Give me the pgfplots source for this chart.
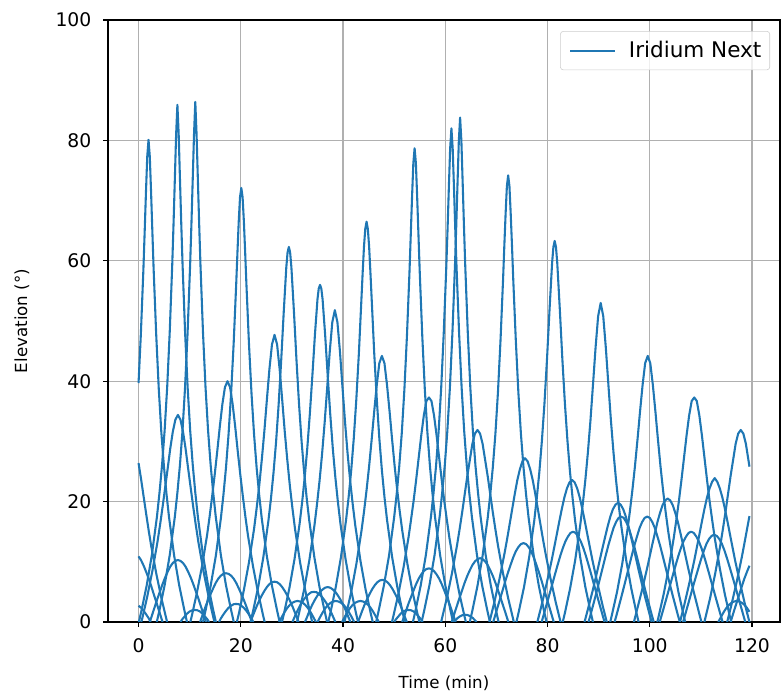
\documentclass[border=0pt]{standalone}
\usepackage{fontspec}
\setmainfont{DejaVu Sans}
\usepackage{pgfplots}
\pgfplotsset{compat=1.18}
\definecolor{mplblue}{HTML}{1F77B4}
\definecolor{gridgray}{HTML}{B0B0B0}
\definecolor{legendgray}{HTML}{CCCCCC}
\begin{document}
\begin{tikzpicture}
\begin{axis}[
 scale only axis, width=483.8pt, height=433.4pt,
 xmin=-5.975, xmax=125.475, ymin=0, ymax=100,
 xtick={0,20,...,120}, ytick={0,20,...,100},
 grid=major, grid style={color=gridgray, line width=0.8pt},
 axis line style={line width=0.8pt},
 tick align=outside, major tick length=3.5pt, tick style={black, line width=0.8pt},
 xtick pos=left, ytick pos=left,
 ticklabel style={font=\fontsize{13.5}{16}\selectfont},
 xticklabel style={yshift=-5pt},
 yticklabel style={xshift=-5pt},
 /pgf/number format/assume math mode=true,
 xlabel={Time (min)}, ylabel={Elevation (°)},
 label style={font=\fontsize{12}{14}\selectfont},
 x label style={at={(axis description cs:0.5,-0.1013)}, anchor=center},
 y label style={at={(axis description cs:-0.128,0.5)}, anchor=center},
 legend style={at={(axis description cs:1,1)}, xshift=-7.2pt, yshift=-8pt, anchor=north east,
   draw=legendgray, rounded corners=2pt, fill=white, fill opacity=0.8, text opacity=1,
   font=\fontsize{15.5}{18}\selectfont, inner xsep=4pt, inner ysep=5.2pt, cells={anchor=west}},
 legend image code/.code={\path (-2.2pt,0pt) (39.6pt,0pt); \draw[#1] (0pt,0pt) -- (32.4pt,0pt);},
 pass/.style={mplblue, line width=1.5pt, line join=round, forget plot},
]
\addlegendimage{mplblue, line width=1.5pt}
\addlegendentry{Iridium Next}
% high passes
\addplot[pass] coordinates {(0,39.7)(0.45,47.8)(0.95,58.6)(1.2,64.9)(1.45,71.4)(1.7,77.3)(1.95,80.1)(2.2,77.3)(2.45,71.4)(2.7,64.9)(2.95,58.6)(3.45,47.8)(3.95,38.8)(4.45,31.6)(4.95,26.0)(5.45,21.4)(5.95,17.5)(6.95,11.1)(7.95,6.1)(8.95,2.0)(9.47,0)};
\addplot[pass] coordinates {(0.07,0)(0.6,2.0)(1.6,6.1)(2.6,11.1)(3.6,17.5)(4.1,21.5)(4.6,26.1)(5.1,31.8)(5.6,39.0)(6.1,48.2)(6.6,59.6)(6.85,66.3)(7.1,73.6)(7.35,81.0)(7.6,85.9)(7.85,81.0)(8.1,73.6)(8.35,66.3)(8.6,59.6)(9.1,48.2)(9.6,39.0)(10.1,31.8)(10.6,26.1)(11.1,21.5)(11.6,17.5)(12.6,11.1)(13.6,6.1)(14.6,2.0)(15.13,0)};
\addplot[pass] coordinates {(3.57,0)(4.1,2.0)(5.1,6.1)(6.1,11.1)(7.1,17.5)(7.6,21.5)(8.1,26.1)(8.6,31.8)(9.1,39.0)(9.6,48.2)(10.1,59.6)(10.35,66.3)(10.6,73.6)(10.85,81.0)(11.1,86.4)(11.35,81.0)(11.6,73.6)(11.85,66.3)(12.1,59.6)(12.6,48.2)(13.1,39.0)(13.6,31.8)(14.1,26.1)(14.6,21.5)(15.1,17.5)(16.1,11.1)(17.1,6.1)(18.1,2.0)(18.63,0)};
\addplot[pass] coordinates {(12.6,0)(13.1,1.9)(14.1,6.0)(15.1,10.9)(16.1,17.2)(16.6,21.1)(17.1,25.6)(17.6,31.1)(18.1,37.9)(18.6,46.2)(19.1,56.1)(19.35,61.5)(19.6,66.6)(19.85,70.6)(20.1,72.1)(20.35,70.6)(20.6,66.6)(20.85,61.5)(21.1,56.1)(21.6,46.2)(22.1,37.9)(22.6,31.1)(23.1,25.6)(23.6,21.1)(24.1,17.2)(25.1,10.9)(26.1,6.0)(27.1,1.9)(27.6,0)};
\addplot[pass] coordinates {(21.92,0)(22.4,1.8)(23.4,5.8)(24.4,10.7)(25.4,16.8)(25.9,20.5)(26.4,24.8)(26.9,29.9)(27.4,36.1)(27.9,43.4)(28.4,51.5)(28.9,58.9)(29.15,61.4)(29.4,62.3)(29.65,61.4)(29.9,58.9)(30.4,51.5)(30.9,43.4)(31.4,36.1)(31.9,29.9)(32.4,24.8)(32.9,20.5)(33.4,16.8)(34.4,10.7)(35.4,5.8)(36.4,1.8)(36.88,0)};
\addplot[pass] coordinates {(28.06,0)(28.5,1.6)(29.5,5.6)(30.5,10.4)(31.5,16.3)(32,19.9)(32.5,24.0)(33,28.8)(33.5,34.5)(34,40.9)(34.5,47.7)(35,53.6)(35.25,55.4)(35.5,56.0)(35.75,55.4)(36,53.6)(36.5,47.7)(37,40.9)(37.5,34.5)(38,28.8)(38.5,24.0)(39,19.9)(39.5,16.3)(40.5,10.4)(41.5,5.6)(42.5,1.6)(42.94,0)};
\addplot[pass] coordinates {(30.99,0)(31.4,1.5)(32.4,5.45)(33.4,10.2)(34.4,16.0)(34.9,19.5)(35.4,23.4)(35.9,27.9)(36.4,33.1)(36.9,38.9)(37.4,44.9)(37.9,49.8)(38.4,51.8)(38.9,49.8)(39.4,44.9)(39.9,38.9)(40.4,33.1)(40.9,27.9)(41.4,23.4)(41.9,19.5)(42.4,16.0)(43.4,10.2)(44.4,5.45)(45.4,1.5)(45.81,0)};
\addplot[pass] coordinates {(37.11,0)(37.6,1.8)(38.6,5.9)(39.6,10.8)(40.6,17.0)(41.1,20.8)(41.6,25.2)(42.1,30.5)(42.6,37.0)(43.1,44.65)(43.6,53.7)(43.85,58.2)(44.1,62.4)(44.35,65.3)(44.6,66.5)(44.85,65.3)(45.1,62.4)(45.35,58.2)(45.6,53.7)(46.1,44.65)(46.6,37.0)(47.1,30.5)(47.6,25.2)(48.1,20.8)(48.6,17.0)(49.6,10.8)(50.6,5.9)(51.6,1.8)(52.09,0)};
\addplot[pass] coordinates {(46.48,0)(47,2.0)(48,6.1)(49,11.05)(50,17.4)(50.5,21.3)(51,25.9)(51.5,31.5)(52,38.6)(52.5,47.5)(53,58.2)(53.25,64.4)(53.5,70.6)(53.75,76.2)(54,78.7)(54.25,76.2)(54.5,70.6)(54.75,64.4)(55,58.2)(55.5,47.5)(56,38.6)(56.5,31.5)(57,25.9)(57.5,21.3)(58,17.4)(59,11.05)(60,6.1)(61,2.0)(61.52,0)};
\addplot[pass] coordinates {(53.67,0)(54.2,2.0)(55.2,6.1)(56.2,11.1)(57.2,17.5)(57.7,21.4)(58.2,26.0)(58.7,31.7)(59.2,38.9)(59.7,48.0)(60.2,59.0)(60.45,65.4)(60.7,72.2)(60.95,78.6)(61.2,82.0)(61.45,78.6)(61.7,72.2)(61.95,65.4)(62.2,59.0)(62.7,48.0)(63.2,38.9)(63.7,31.7)(64.2,26.0)(64.7,21.4)(65.2,17.5)(66.2,11.1)(67.2,6.1)(68.2,2.0)(68.73,0)};
\addplot[pass] coordinates {(55.37,0)(55.9,2.0)(56.9,6.1)(57.9,11.1)(58.9,17.5)(59.4,21.5)(59.9,26.0)(60.4,31.7)(60.9,38.9)(61.4,48.1)(61.9,59.3)(62.15,65.9)(62.4,73.0)(62.65,79.9)(62.9,83.8)(63.15,79.9)(63.4,73.0)(63.65,65.9)(63.9,59.3)(64.4,48.1)(64.9,38.9)(65.4,31.7)(65.9,26.0)(66.4,21.5)(66.9,17.5)(67.9,11.1)(68.9,6.1)(69.9,2.0)(70.43,0)};
\addplot[pass] coordinates {(64.79,0)(65.3,1.9)(66.3,6.0)(67.3,11.0)(68.3,17.3)(68.8,21.2)(69.3,25.7)(69.8,31.2)(70.3,38.1)(70.8,46.7)(71.3,56.8)(71.55,62.5)(71.8,67.8)(72.05,72.4)(72.3,74.2)(72.55,72.4)(72.8,67.8)(73.05,62.5)(73.3,56.8)(73.8,46.7)(74.3,38.1)(74.8,31.2)(75.3,25.7)(75.8,21.2)(76.3,17.3)(77.3,11.0)(78.3,6.0)(79.3,1.9)(79.81,0)};
\addplot[pass] coordinates {(73.92,0)(74.4,1.8)(75.4,5.8)(76.4,10.7)(77.4,16.8)(77.9,20.6)(78.4,24.9)(78.9,30.1)(79.4,36.3)(79.9,43.7)(80.4,52.0)(80.9,59.7)(81.15,62.3)(81.4,63.3)(81.65,62.3)(81.9,59.7)(82.4,52.0)(82.9,43.7)(83.4,36.3)(83.9,30.1)(84.4,24.9)(84.9,20.6)(85.4,16.8)(86.4,10.7)(87.4,5.8)(88.4,1.8)(88.88,0)};
\addplot[pass] coordinates {(82.98,0)(83.4,1.5)(84.4,5.5)(85.4,10.2)(86.4,16.1)(86.9,19.6)(87.4,23.6)(87.9,28.2)(88.4,33.5)(88.9,39.5)(89.4,45.6)(89.9,50.8)(90.4,53.0)(90.9,50.8)(91.4,45.6)(91.9,39.5)(92.4,33.5)(92.9,28.2)(93.4,23.6)(93.9,19.6)(94.4,16.1)(95.4,10.2)(96.4,5.5)(97.4,1.5)(97.82,0)};
\addplot[pass] coordinates {(92.27,0)(92.6,1.2)(93.6,5.0)(94.6,9.6)(95.6,15.1)(96.1,18.3)(96.6,21.9)(97.1,25.85)(97.6,30.3)(98.1,35.0)(98.6,39.4)(99.1,43.0)(99.6,44.2)(100.1,43.0)(100.6,39.4)(101.1,35.0)(101.6,30.3)(102.1,25.85)(102.6,21.9)(103.1,18.3)(103.6,15.1)(104.6,9.6)(105.6,5.0)(106.6,1.2)(106.93,0)};
\addplot[pass] coordinates {(101.47,0)(101.7,0.8)(102.7,4.55)(103.7,8.9)(104.7,14.0)(105.2,17.0)(105.7,20.1)(106.2,23.6)(106.7,27.3)(107.2,31.0)(107.7,34.3)(108.2,36.7)(108.7,37.3)(109.2,36.7)(109.7,34.3)(110.2,31.0)(110.7,27.3)(111.2,23.6)(111.7,20.1)(112.2,17.0)(112.7,14.0)(113.7,8.9)(114.7,4.55)(115.7,0.8)(115.93,0)};
\addplot[pass] coordinates {(110.7,0)(110.8,0.4)(111.8,3.95)(112.8,8.05)(113.8,12.75)(114.3,15.4)(114.8,18.2)(115.3,21.2)(115.8,24.2)(116.3,26.9)(116.8,29.6)(117.3,31.3)(117.8,31.9)(118.3,31.3)(118.8,29.6)(119.3,26.9)(119.5,25.8)};
% medium passes
\addplot[pass] coordinates {(0,26.4)(0.5,23.7)(1.0,20.8)(1.5,17.9)(2.0,15.1)(2.5,12.5)(3.5,7.9)(4.5,3.85)(5.5,0.3)(5.58,0)};
\addplot[pass] coordinates {(0.53,0)(0.7,0.5)(1.7,4.2)(2.7,8.45)(3.7,13.3)(4.2,16.1)(4.7,19.1)(5.2,22.3)(5.7,25.5)(6.2,28.8)(6.7,31.6)(7.2,33.6)(7.7,34.4)(8.2,33.6)(8.7,31.6)(9.2,28.8)(9.7,25.5)(10.2,22.3)(10.7,19.1)(11.2,16.1)(11.7,13.3)(12.7,8.45)(13.7,4.2)(14.7,0.5)(14.87,0)};
\addplot[pass] coordinates {(10.13,0)(10.4,0.95)(11.4,4.8)(12.4,9.2)(13.4,14.4)(13.9,17.5)(14.4,20.9)(14.9,24.5)(15.4,28.4)(15.9,32.5)(16.4,36.2)(16.9,39.0)(17.4,40.0)(17.9,39.0)(18.4,36.2)(18.9,32.5)(19.4,28.4)(19.9,24.5)(20.4,20.9)(20.9,17.5)(21.4,14.4)(22.4,9.2)(23.4,4.8)(24.4,0.95)(24.67,0)};
\addplot[pass] coordinates {(19.23,0)(19.6,1.3)(20.6,5.3)(21.6,9.9)(22.6,15.5)(23.1,18.9)(23.6,22.6)(24.1,26.9)(24.6,31.6)(25.1,36.9)(25.6,42.0)(26.1,46.1)(26.6,47.7)(27.1,46.1)(27.6,42.0)(28.1,36.9)(28.6,31.6)(29.1,26.9)(29.6,22.6)(30.1,18.9)(30.6,15.5)(31.6,9.9)(32.6,5.3)(33.6,1.3)(33.97,0)};
\addplot[pass] coordinates {(40.27,0)(40.6,1.2)(41.6,5.0)(42.6,9.6)(43.6,15.1)(44.1,18.3)(44.6,21.9)(45.1,25.85)(45.6,30.3)(46.1,35.0)(46.6,39.4)(47.1,43.0)(47.6,44.2)(48.1,43.0)(48.6,39.4)(49.1,35.0)(49.6,30.3)(50.1,25.85)(50.6,21.9)(51.1,18.3)(51.6,15.1)(52.6,9.6)(53.6,5.0)(54.6,1.2)(54.93,0)};
\addplot[pass] coordinates {(49.57,0)(49.8,0.8)(50.8,4.55)(51.8,8.9)(52.8,14.0)(53.3,17.0)(53.8,20.1)(54.3,23.6)(54.8,27.3)(55.3,31.0)(55.8,34.3)(56.3,36.7)(56.8,37.3)(57.3,36.7)(57.8,34.3)(58.3,31.0)(58.8,27.3)(59.3,23.6)(59.8,20.1)(60.3,17.0)(60.8,14.0)(61.8,8.9)(62.8,4.55)(63.8,0.8)(64.03,0)};
\addplot[pass] coordinates {(59.2,0)(59.3,0.4)(60.3,3.95)(61.3,8.05)(62.3,12.75)(62.8,15.4)(63.3,18.2)(63.8,21.2)(64.3,24.2)(64.8,26.9)(65.3,29.6)(65.8,31.3)(66.3,31.9)(66.8,31.3)(67.3,29.6)(67.8,26.9)(68.3,24.2)(68.8,21.2)(69.3,18.2)(69.8,15.4)(70.3,12.75)(71.3,8.05)(72.3,3.95)(73.3,0.4)(73.4,0)};
\addplot[pass] coordinates {(68.65,0)(69.6,3.3)(70.6,7.15)(71.6,11.45)(72.1,13.8)(72.6,16.3)(73.1,18.8)(73.6,21.3)(74.1,23.6)(74.6,25.4)(75.1,26.7)(75.6,27.2)(76.1,26.7)(76.6,25.4)(77.1,23.6)(77.6,21.3)(78.1,18.8)(78.6,16.3)(79.1,13.8)(79.6,11.45)(80.6,7.15)(81.6,3.3)(82.55,0)};
\addplot[pass] coordinates {(78.01,0)(78.8,2.65)(79.8,6.3)(80.8,10.2)(81.3,12.35)(81.8,14.5)(82.3,16.7)(82.8,18.8)(83.3,20.7)(83.8,22.2)(84.3,23.2)(84.8,23.6)(85.3,23.2)(85.8,22.2)(86.3,20.7)(86.8,18.8)(87.3,16.7)(87.8,14.5)(88.3,12.35)(88.8,10.2)(89.8,6.3)(90.8,2.65)(91.59,0)};
\addplot[pass] coordinates {(87.24,0)(87.8,1.8)(88.8,5.1)(89.8,8.7)(90.3,10.6)(90.8,12.45)(91.3,14.25)(91.8,16.0)(92.3,17.55)(92.8,18.75)(93.3,19.5)(93.8,19.8)(94.3,19.5)(94.8,18.75)(95.3,17.55)(95.8,16.0)(96.3,14.25)(96.8,12.45)(97.3,10.6)(97.8,8.7)(98.8,5.1)(99.8,1.8)(100.36,0)};
\addplot[pass] coordinates {(96.9,0)(97.5,2.0)(98.5,5.35)(99.5,9.0)(100,10.95)(100.5,12.9)(101,14.75)(101.5,16.6)(102,18.1)(102.5,19.4)(103,20.2)(103.5,20.5)(104,20.2)(104.5,19.4)(105,18.1)(105.5,16.6)(106,14.75)(106.5,12.9)(107,10.95)(107.5,9.0)(108.5,5.35)(109.5,2.0)(110.1,0)};
\addplot[pass] coordinates {(105.91,0)(106.7,2.65)(107.7,6.3)(108.7,10.2)(109.2,12.35)(109.7,14.5)(110.2,16.7)(110.7,18.8)(111.2,20.7)(111.7,22.2)(112.2,23.3)(112.7,23.9)(113.2,23.3)(113.7,22.2)(114.2,20.7)(114.7,18.8)(115.2,16.7)(115.7,14.5)(116.2,12.35)(116.7,10.2)(117.7,6.3)(118.7,2.65)(119.49,0)};
\addplot[pass] coordinates {(115.14,0)(116,2.95)(117,6.65)(118,10.75)(118.5,13.0)(119,15.3)(119.5,17.6)};
% low passes
\addplot[pass] coordinates {(0,10.9)(0.5,10.25)(1,9.35)(1.5,8.3)(2,7.2)(2.5,5.9)(3,4.55)(4,1.9)(4.69,0)};
\addplot[pass] coordinates {(2.21,0)(2.7,1.3)(3.7,3.9)(4.2,5.1)(4.7,6.3)(5.2,7.4)(5.7,8.35)(6.2,9.2)(6.7,9.8)(7.2,10.15)(7.7,10.3)(8.2,10.15)(8.7,9.8)(9.2,9.2)(9.7,8.35)(10.2,7.4)(10.7,6.3)(11.2,5.1)(11.7,3.9)(12.7,1.3)(13.19,0)};
\addplot[pass] coordinates {(12.04,0)(12.6,1.35)(13.1,2.55)(13.6,3.65)(14.1,4.65)(14.6,5.6)(15.1,6.5)(15.6,7.2)(16.1,7.7)(16.6,8.0)(17.1,8.1)(17.6,8.0)(18.1,7.7)(18.6,7.2)(19.1,6.5)(19.6,5.6)(20.1,4.65)(20.6,3.65)(21.1,2.55)(21.6,1.35)(22.16,0)};
\addplot[pass] coordinates {(21.9,0)(22.1,0.5)(22.6,1.55)(23.1,2.6)(23.6,3.55)(24.1,4.4)(24.6,5.15)(25.1,5.8)(25.6,6.3)(26.1,6.6)(26.6,6.7)(27.1,6.6)(27.6,6.3)(28.1,5.8)(28.6,5.15)(29.1,4.4)(29.6,3.55)(30.1,2.6)(30.6,1.55)(31.1,0.5)(31.3,0)};
\addplot[pass] coordinates {(32.55,0)(33,0.9)(33.5,2.0)(34,2.9)(34.5,3.7)(35,4.4)(35.5,5.0)(36,5.4)(36.5,5.7)(37,5.8)(37.5,5.7)(38,5.4)(38.5,5.0)(39,4.4)(39.5,3.7)(40,2.9)(40.5,2.0)(41,0.9)(41.45,0)};
\addplot[pass] coordinates {(42.92,0)(43.2,0.6)(43.7,1.75)(44.2,2.85)(44.7,3.8)(45.2,4.65)(45.7,5.45)(46.2,6.1)(46.7,6.6)(47.2,6.9)(47.7,7.0)(48.2,6.9)(48.7,6.6)(49.2,6.1)(49.7,5.45)(50.2,4.65)(50.7,3.8)(51.2,2.85)(51.7,1.75)(52.2,0.6)(52.48,0)};
\addplot[pass] coordinates {(51.57,0)(52.3,1.8)(52.8,3.05)(53.3,4.15)(53.8,5.25)(54.3,6.3)(54.8,7.2)(55.3,7.9)(55.8,8.45)(56.3,8.8)(56.8,8.9)(57.3,8.8)(57.8,8.45)(58.3,7.9)(58.8,7.2)(59.3,6.3)(59.8,5.25)(60.3,4.15)(60.8,3.05)(61.3,1.8)(62.03,0)};
\addplot[pass] coordinates {(61.26,0)(61.8,1.45)(62.8,4.05)(63.3,5.3)(63.8,6.55)(64.3,7.65)(64.8,8.6)(65.3,9.45)(65.8,10.05)(66.3,10.45)(66.8,10.6)(67.3,10.45)(67.8,10.05)(68.3,9.45)(68.8,8.6)(69.3,7.65)(69.8,6.55)(70.3,5.3)(70.8,4.05)(71.8,1.45)(72.34,0)};
\addplot[pass] coordinates {(69.38,0)(70.3,2.65)(71.3,5.5)(71.8,6.95)(72.3,8.3)(72.8,9.55)(73.3,10.75)(73.8,11.75)(74.3,12.45)(74.8,12.95)(75.3,13.1)(75.8,12.95)(76.3,12.45)(76.8,11.75)(77.3,10.75)(77.8,9.55)(78.3,8.3)(78.8,6.95)(79.3,5.5)(80.3,2.65)(81.22,0)};
\addplot[pass] coordinates {(78.86,0)(79,0.45)(80,3.45)(81,6.5)(81.5,8.05)(82,9.55)(82.5,11.0)(83,12.3)(83.5,13.4)(84,14.2)(84.5,14.8)(85,15.0)(85.5,14.8)(86,14.2)(86.5,13.4)(87,12.3)(87.5,11.0)(88,9.55)(88.5,8.05)(89,6.5)(90,3.45)(91,0.45)(91.14,0)};
\addplot[pass] coordinates {(88.02,0)(88.4,1.15)(89.4,4.35)(90.4,7.7)(90.9,9.4)(91.4,11.1)(91.9,12.75)(92.4,14.2)(92.9,15.6)(93.4,16.6)(93.9,17.3)(94.4,17.5)(94.9,17.3)(95.4,16.6)(95.9,15.6)(96.4,14.2)(96.9,12.75)(97.4,11.1)(97.9,9.4)(98.4,7.7)(99.4,4.35)(100.4,1.15)(100.78,0)};
\addplot[pass] coordinates {(93.12,0)(93.5,1.15)(94.5,4.35)(95.5,7.7)(96,9.4)(96.5,11.1)(97,12.75)(97.5,14.2)(98,15.6)(98.5,16.6)(99,17.3)(99.5,17.5)(100,17.3)(100.5,16.6)(101,15.6)(101.5,14.2)(102,12.75)(102.5,11.1)(103,9.4)(103.5,7.7)(104.5,4.35)(105.5,1.15)(105.88,0)};
\addplot[pass] coordinates {(101.96,0)(102.1,0.45)(103.1,3.45)(104.1,6.5)(104.6,8.05)(105.1,9.55)(105.6,11.0)(106.1,12.3)(106.6,13.4)(107.1,14.2)(107.6,14.8)(108.1,15.0)(108.6,14.8)(109.1,14.2)(109.6,13.4)(110.1,12.3)(110.6,11.0)(111.1,9.55)(111.6,8.05)(112.1,6.5)(113.1,3.45)(114.1,0.45)(114.24,0)};
\addplot[pass] coordinates {(106.52,0)(106.6,0.25)(107.6,3.25)(108.6,6.3)(109.1,7.75)(109.6,9.2)(110.1,10.6)(110.6,11.9)(111.1,13.0)(111.6,13.8)(112.1,14.3)(112.6,14.5)(113.1,14.3)(113.6,13.8)(114.1,13.0)(114.6,11.9)(115.1,10.6)(115.6,9.2)(116.1,7.75)(116.6,6.3)(117.6,3.25)(118.6,0.25)(118.68,0)};
\addplot[pass] coordinates {(115.81,0)(116.5,1.9)(117.5,4.55)(118,5.9)(118.5,7.2)(119,8.3)(119.5,9.35)};
% very low passes
\addplot[pass] coordinates {(0,2.7)(0.5,2.35)(1,1.85)(1.5,1.25)(2,0.6)(2.35,0)};
\addplot[pass] coordinates {(8.22,0)(8.5,0.4)(9,0.9)(9.5,1.4)(10,1.75)(10.5,1.95)(11,2.0)(11.5,1.95)(12,1.75)(12.5,1.4)(13,0.9)(13.5,0.4)(13.78,0)};
\addplot[pass] coordinates {(15.75,0)(16.1,0.6)(16.6,1.25)(17.1,1.85)(17.6,2.35)(18.1,2.7)(18.6,2.95)(19.1,3.0)(19.6,2.95)(20.1,2.7)(20.6,2.35)(21.1,1.85)(21.6,1.25)(22.1,0.6)(22.45,0)};
\addplot[pass] coordinates {(27.51,0)(28.1,0.95)(28.6,1.7)(29.1,2.35)(29.6,2.85)(30.1,3.2)(30.6,3.4)(31.1,3.5)(31.6,3.4)(32.1,3.2)(32.6,2.85)(33.1,2.35)(33.6,1.7)(34.1,0.95)(34.69,0)};
\addplot[pass] coordinates {(30.1,0)(30.3,0.4)(30.8,1.35)(31.3,2.25)(31.8,3.05)(32.3,3.7)(32.8,4.25)(33.3,4.65)(33.8,4.95)(34.3,5.0)(34.8,4.95)(35.3,4.65)(35.8,4.25)(36.3,3.7)(36.8,3.05)(37.3,2.25)(37.8,1.35)(38.3,0.4)(38.5,0)};
\addplot[pass] coordinates {(35.01,0)(35.6,0.95)(36.1,1.7)(36.6,2.35)(37.1,2.85)(37.6,3.2)(38.1,3.4)(38.6,3.5)(39.1,3.4)(39.6,3.2)(40.1,2.85)(40.6,2.35)(41.1,1.7)(41.6,0.95)(42.19,0)};
\addplot[pass] coordinates {(39.81,0)(40.4,0.95)(40.9,1.7)(41.4,2.35)(41.9,2.85)(42.4,3.2)(42.9,3.4)(43.4,3.5)(43.9,3.4)(44.4,3.2)(44.9,2.85)(45.4,2.35)(45.9,1.7)(46.4,0.95)(46.99,0)};
\addplot[pass] coordinates {(50.02,0)(50.3,0.4)(50.8,0.9)(51.3,1.4)(51.8,1.75)(52.3,1.95)(52.8,2.0)(53.3,1.95)(53.8,1.75)(54.3,1.4)(54.8,0.9)(55.3,0.4)(55.58,0)};
\addplot[pass] coordinates {(61.7,0)(61.9,0.2)(62.4,0.65)(62.9,0.95)(63.4,1.15)(63.9,1.2)(64.4,1.15)(64.9,0.95)(65.4,0.65)(65.9,0.2)(66.1,0)};
\addplot[pass] coordinates {(113.41,0)(114,0.95)(114.5,1.7)(115,2.35)(115.5,2.85)(116,3.2)(116.5,3.4)(117,3.5)(117.5,3.4)(118,3.2)(118.5,2.85)(119,2.35)(119.5,1.7)};
\end{axis}
\path ([xshift=-77.76pt,yshift=-54pt]current axis.south west) rectangle ([xshift=0.72pt,yshift=14.4pt]current axis.north east);
\end{tikzpicture}
\end{document}
